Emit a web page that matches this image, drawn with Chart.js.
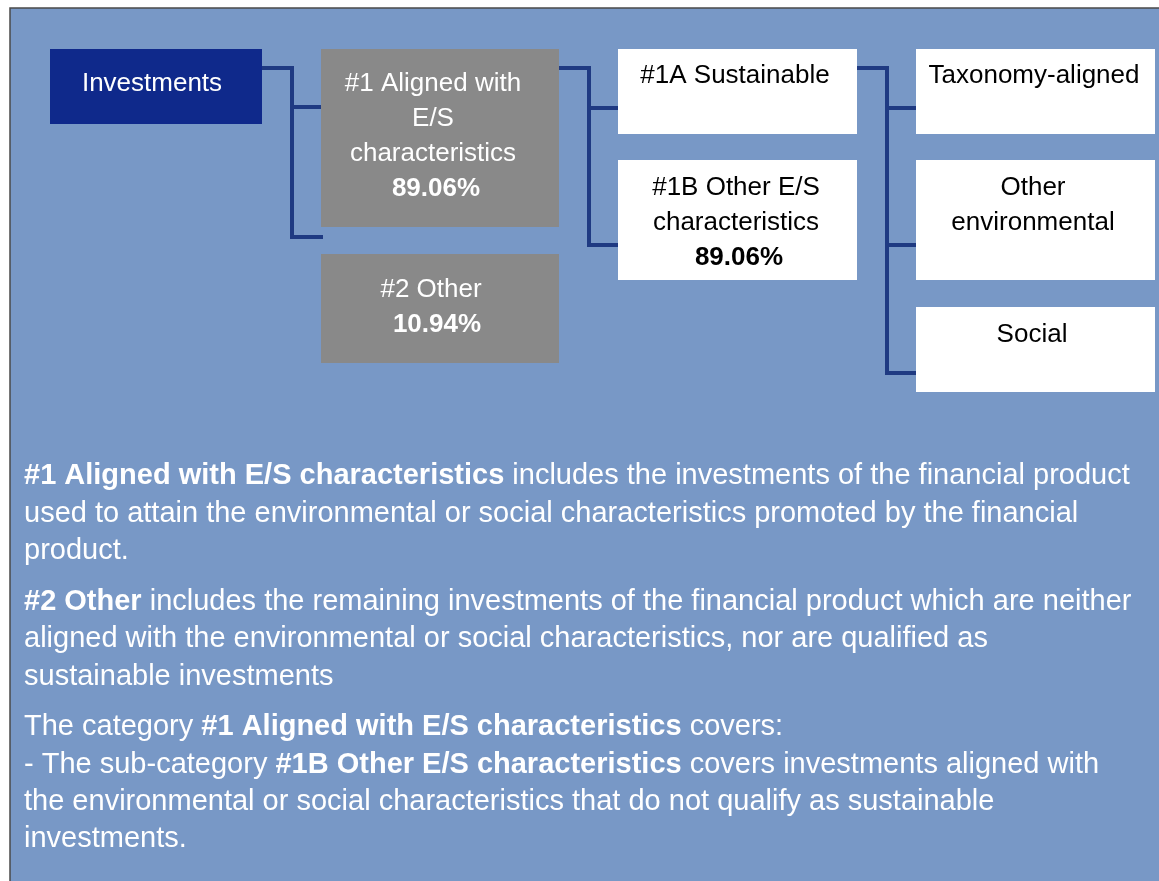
<!DOCTYPE html>
<html>
<head>
<meta charset="utf-8">
<title>Asset allocation</title>
<script src="https://cdn.jsdelivr.net/npm/chart.js@4"></script>
<style>
  body { margin: 0; background: #ffffff; font-family: "Liberation Sans", Arial, sans-serif; }
  #wrap { position: relative; width: 1159px; height: 881px; }
</style>
</head>
<body>
<div id="wrap"><canvas id="allocChart"></canvas></div>
<script>
// Data: tree nodes
const nodeLabels = [
    ['Investments'],
    ['#1 Aligned with', 'E/S', 'characteristics'],
    ['#2 Other'],
    ['#1A Sustainable'],
    ['#1B Other E/S', 'characteristics'],
    ['Taxonomy-aligned'],
    ['Other', 'environmental'],
    ['Social']
];
const nodeShares = [null, 89.06, 10.94, null, 89.06, null, null, null];
const nodeParents = [null, 0, 0, 1, 1, 3, 3, 3];

// Explanation text below the tree (** marks bold)
const noteLines = [
    '**#1 Aligned with E/S characteristics** includes the investments of the financial product',
    'used to attain the environmental or social characteristics promoted by the financial',
    'product.',
    '**#2 Other** includes the remaining investments of the financial product which are neither',
    'aligned with the environmental or social characteristics, nor are qualified as',
    'sustainable investments',
    'The category **#1 Aligned with E/S characteristics** covers:',
    '- The sub-category **#1B Other E/S characteristics** covers investments aligned with',
    'the environmental or social characteristics that do not qualify as sustainable',
    'investments.'
];

// Layout (in chart units, same as pixels here)
const boxRects = [
    [50, 49, 262, 124],
    [321, 49, 559, 227],
    [321, 254, 559, 363],
    [618, 49, 857, 134],
    [618, 160, 857, 280],
    [916, 49, 1155, 134],
    [916, 160, 1155, 280],
    [916, 307, 1155, 392]
];
const boxFill = ['#0f298b', '#898989', '#898989', '#ffffff', '#ffffff', '#ffffff', '#ffffff', '#ffffff'];
const textFill = ['#ffffff', '#ffffff', '#ffffff', '#000000', '#000000', '#000000', '#000000', '#000000'];
const textX = [152, 433, 431, 735, 736, 1034, 1033, 1032];
const textTop = [84, 84, 290, 76, 188, 76, 188, 335];
const branchY = [null, 107, 237, 108, 245, 108, 245, 373];
const noteY = [476, 514, 551, 602, 639, 677, 727, 765, 802, 839];

const lineColor = '#1f3a82';
const fontFamily = '"Liberation Sans", Arial, sans-serif';

// Build connector datasets: parent -> bus -> each child
function buildConnectors() {
    const sets = [];
    const parents = [...new Set(nodeParents.filter(p => p !== null))];
    parents.forEach(p => {
        const kids = nodeParents.map((q, i) => q === p ? i : -1).filter(i => i >= 0);
        const startX = boxRects[p][2];
        const startY = boxRects[p][1] + 19;
        const busX = startX + 30;
        const lastY = branchY[kids[kids.length - 1]];
        sets.push({
            data: [{ x: startX, y: startY }, { x: busX, y: startY }, { x: busX, y: lastY }],
            showLine: true
        });
        kids.forEach(k => {
            sets.push({
                data: [{ x: busX, y: branchY[k] }, { x: boxRects[k][0], y: branchY[k] }],
                showLine: true
            });
        });
    });
    return sets.map(s => Object.assign(s, {
        borderColor: lineColor,
        borderWidth: 4,
        pointRadius: 0,
        borderCapStyle: 'square',
        borderJoinStyle: 'miter'
    }));
}

// Background panel, boxes and texts
const boxPlugin = {
    id: 'boxes',
    beforeDatasetsDraw(chart) {
        const { ctx, scales: { x, y } } = chart;
        ctx.save();
        ctx.fillStyle = '#7898c6';
        ctx.fillRect(x.getPixelForValue(10), y.getPixelForValue(8), chart.width, chart.height);
        ctx.strokeStyle = '#4a4a4a';
        ctx.lineWidth = 1.5;
        ctx.beginPath();
        ctx.moveTo(x.getPixelForValue(10), chart.height);
        ctx.lineTo(x.getPixelForValue(10), y.getPixelForValue(8));
        ctx.lineTo(chart.width, y.getPixelForValue(8));
        ctx.stroke();
        ctx.restore();
    },
    afterDatasetsDraw(chart) {
        const { ctx, scales: { x, y } } = chart;
        ctx.save();
        // boxes over the line ends
        boxRects.forEach((r, i) => {
            const x0 = x.getPixelForValue(r[0]);
            const y0 = y.getPixelForValue(r[1]);
            ctx.fillStyle = boxFill[i];
            ctx.fillRect(x0, y0, x.getPixelForValue(r[2]) - x0, y.getPixelForValue(r[3]) - y0);
        });
        ctx.textBaseline = 'middle';
        ctx.textAlign = 'center';
        nodeLabels.forEach((lines, i) => {
            ctx.fillStyle = textFill[i];
            lines.forEach((t, j) => {
                ctx.font = '26px ' + fontFamily;
                ctx.fillText(t, x.getPixelForValue(textX[i]), y.getPixelForValue(textTop[i] + j * 35));
            });
            if (nodeShares[i] !== null) {
                ctx.font = 'bold 26px ' + fontFamily;
                const off = i === 2 ? 6 : 3;
                ctx.fillText(nodeShares[i].toFixed(2) + '%', x.getPixelForValue(textX[i] + off),
                    y.getPixelForValue(textTop[i] + lines.length * 35));
            }
        });
        // notes
        ctx.textAlign = 'left';
        ctx.fillStyle = '#ffffff';
        noteLines.forEach((line, i) => {
            let px = x.getPixelForValue(24);
            const py = y.getPixelForValue(noteY[i]);
            line.split('**').forEach((part, k) => {
                ctx.font = (k % 2 ? 'bold ' : '') + '29px ' + fontFamily;
                ctx.fillText(part, px, py);
                px += ctx.measureText(part).width;
            });
        });
        ctx.restore();
    }
};

function initializeChart() {
    const ctx = document.getElementById('allocChart').getContext('2d');
    new Chart(ctx, {
        type: 'scatter',
        data: { datasets: buildConnectors() },
        options: {
            responsive: true,
            maintainAspectRatio: false,
            devicePixelRatio: 1,
            animation: false,
            layout: { padding: 0 },
            plugins: { legend: { display: false }, tooltip: { enabled: false } },
            scales: {
                x: { type: 'linear', min: 0, max: 1159, display: false },
                y: { type: 'linear', min: 0, max: 881, reverse: true, display: false }
            }
        },
        plugins: [boxPlugin]
    });
}

document.addEventListener('DOMContentLoaded', () => {
    Promise.all([
        document.fonts.load('26px "Liberation Sans"'),
        document.fonts.load('bold 26px "Liberation Sans"')
    ]).catch(() => {}).then(initializeChart);
});
</script>
</body>
</html>
